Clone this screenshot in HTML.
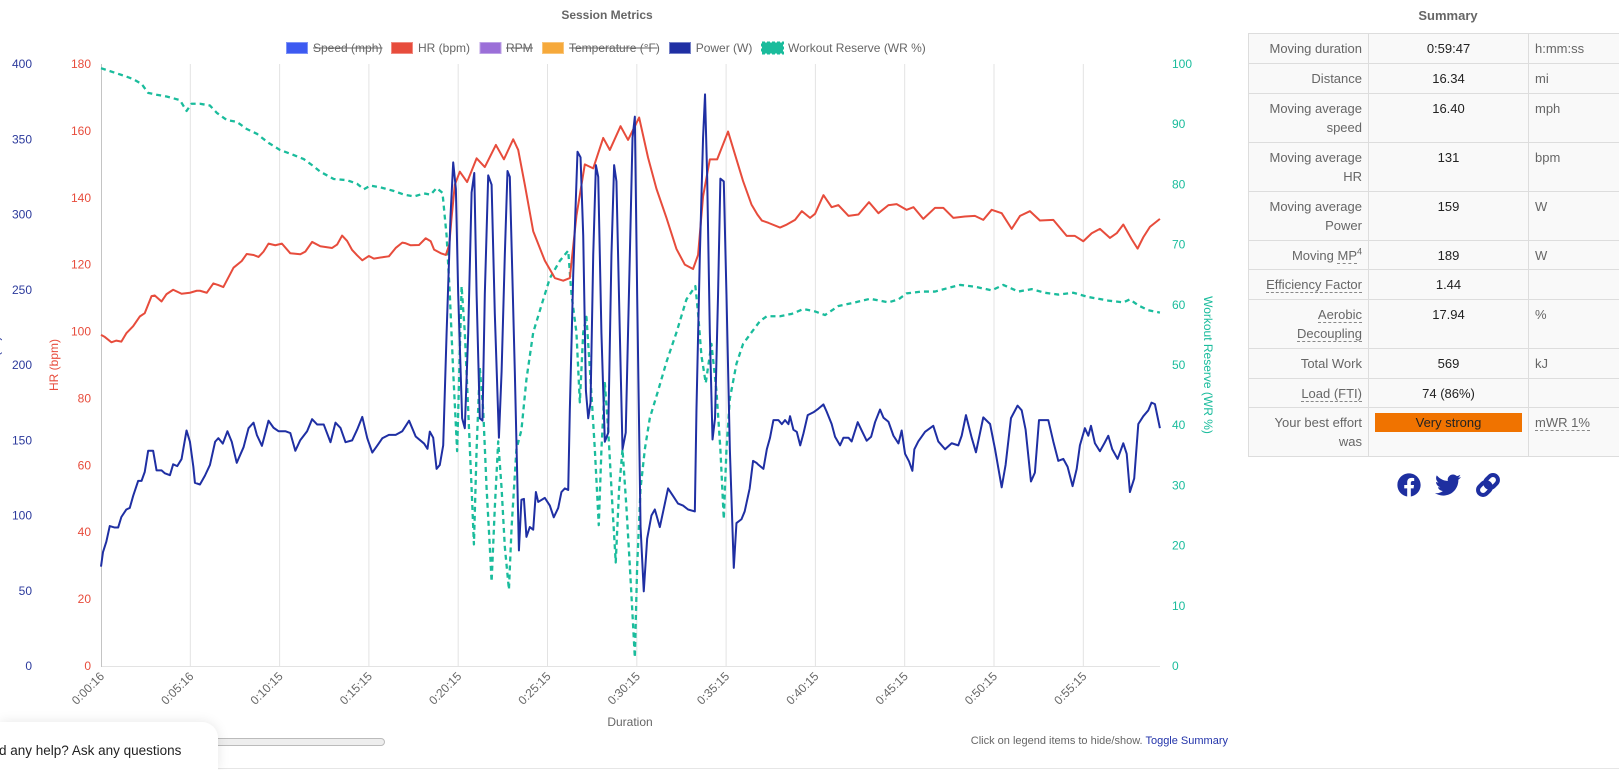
<!DOCTYPE html>
<html><head><meta charset="utf-8">
<style>
html,body{margin:0;padding:0;background:#fff;}
body{width:1619px;height:770px;overflow:hidden;position:relative;font-family:"Liberation Sans",Arial,sans-serif;}
svg{position:absolute;left:0;top:0;}
.sumtitle{position:absolute;left:1248px;width:400px;top:6px;text-align:center;font:bold 13px/19px "Liberation Sans",Arial,sans-serif;color:#666;}
table.sum{position:absolute;left:1248px;top:33px;width:400px;table-layout:fixed;border-collapse:collapse;background:#f9f9f9;font:13px/19px "Liberation Sans",Arial,sans-serif;}
table.sum td{border:1px solid #ddd;padding:5px 6px;vertical-align:top;}
table.sum td.l{text-align:right;color:#666;}
table.sum td.v{text-align:center;color:#222;}
table.sum td.u{text-align:left;color:#666;}
table.sum tr.t29 td{padding-bottom:4px;}
.ab{border-bottom:1px dashed #888;}
.bar{background:#f07300;color:#222;text-align:center;height:19px;line-height:19px;}
.note{position:absolute;right:391px;top:734px;font:11px/14px "Liberation Sans",Arial,sans-serif;color:#666;white-space:nowrap;}
.note span{color:#2233aa;}
.scroll{position:absolute;left:213px;top:738px;width:170px;height:6px;background:#eee;border:1px solid #bbb;border-radius:4px;}
.chat{position:absolute;left:0;top:722px;width:218px;height:48px;background:#fff;border-top-right-radius:16px;box-shadow:0 0 12px rgba(0,0,0,0.10);z-index:2;}
.chat div{position:absolute;left:-1px;top:19px;font:13.5px/20px "Liberation Sans",Arial,sans-serif;color:#222;white-space:nowrap;}
.bline{position:absolute;left:218px;top:768px;width:1401px;height:1px;background:#e6e6e6;}
</style></head>
<body>
<svg width="1619" height="770" viewBox="0 0 1619 770" font-family="Liberation Sans, Arial, sans-serif">
  <!-- title -->
  <text x="607" y="19" text-anchor="middle" font-size="12" font-weight="bold" fill="#666">Session Metrics</text>

  <!-- legend -->
  <g font-size="12" fill="#666">
    <rect x="286.5" y="42.5" width="21" height="11" fill="#3d5af1" stroke="#7d93f7" stroke-width="1"/>
    <text x="313" y="52">Speed (mph)</text>
    <line x1="313" y1="48" x2="382.5" y2="48" stroke="#666" stroke-width="1"/>
    <rect x="391.5" y="42.5" width="21" height="11" fill="#e74c3c" stroke="#f08a80" stroke-width="1"/>
    <text x="418" y="52">HR (bpm)</text>
    <rect x="480" y="42.5" width="21" height="11" fill="#9b6fd8" stroke="#bda2e6" stroke-width="1"/>
    <text x="506" y="52">RPM</text>
    <line x1="506" y1="48" x2="533" y2="48" stroke="#666" stroke-width="1"/>
    <rect x="542.5" y="42.5" width="21" height="11" fill="#f6a93b" stroke="#f9c57a" stroke-width="1"/>
    <text x="569" y="52">Temperature (°F)</text>
    <line x1="569" y1="48" x2="657.5" y2="48" stroke="#666" stroke-width="1"/>
    <rect x="669.5" y="42.5" width="21" height="11" fill="#1f2fa3" stroke="#7480c8" stroke-width="1"/>
    <text x="695.7" y="52">Power (W)</text>
    <rect x="762" y="42.5" width="21" height="11" fill="#1abc9c" stroke="#1abc9c" stroke-width="2" stroke-dasharray="3,2"/>
    <text x="788" y="52">Workout Reserve (WR %)</text>
  </g>

  <!-- grid -->
  <g stroke="#e3e3e3" stroke-width="1">
    <line x1="190.3" y1="64" x2="190.3" y2="666"/>
    <line x1="279.6" y1="64" x2="279.6" y2="666"/>
    <line x1="368.9" y1="64" x2="368.9" y2="666"/>
    <line x1="458.2" y1="64" x2="458.2" y2="666"/>
    <line x1="547.5" y1="64" x2="547.5" y2="666"/>
    <line x1="636.8" y1="64" x2="636.8" y2="666"/>
    <line x1="726.1" y1="64" x2="726.1" y2="666"/>
    <line x1="815.4" y1="64" x2="815.4" y2="666"/>
    <line x1="904.7" y1="64" x2="904.7" y2="666"/>
    <line x1="994" y1="64" x2="994" y2="666"/>
    <line x1="1083.3" y1="64" x2="1083.3" y2="666"/>
    <line x1="101" y1="666.5" x2="1160" y2="666.5"/>
  </g>
  <line x1="101.5" y1="64" x2="101.5" y2="667" stroke="#c4c4c4" stroke-width="1"/>

  <!-- left power ticks -->
  <g font-size="12" fill="#2c3a9c" text-anchor="end">
    <text x="32" y="68">400</text>
    <text x="32" y="143.3">350</text>
    <text x="32" y="218.5">300</text>
    <text x="32" y="293.8">250</text>
    <text x="32" y="369">200</text>
    <text x="32" y="444.3">150</text>
    <text x="32" y="519.5">100</text>
    <text x="32" y="594.8">50</text>
    <text x="32" y="670">0</text>
  </g>
  <text transform="translate(-0.5,365) rotate(-90)" text-anchor="middle" font-size="12" fill="#2c3a9c">Power (W)</text>

  <!-- HR ticks -->
  <g font-size="12" fill="#e74c3c" text-anchor="end">
    <text x="91" y="68">180</text>
    <text x="91" y="134.9">160</text>
    <text x="91" y="201.8">140</text>
    <text x="91" y="268.7">120</text>
    <text x="91" y="335.6">100</text>
    <text x="91" y="402.4">80</text>
    <text x="91" y="469.3">60</text>
    <text x="91" y="536.2">40</text>
    <text x="91" y="603.1">20</text>
    <text x="91" y="670">0</text>
  </g>
  <text transform="translate(58,365) rotate(-90)" text-anchor="middle" font-size="12" fill="#e74c3c">HR (bpm)</text>

  <!-- WR ticks -->
  <g font-size="12" fill="#1abc9c" text-anchor="start">
    <text x="1172" y="68">100</text>
    <text x="1172" y="128.2">90</text>
    <text x="1172" y="188.4">80</text>
    <text x="1172" y="248.6">70</text>
    <text x="1172" y="308.8">60</text>
    <text x="1172" y="369">50</text>
    <text x="1172" y="429.2">40</text>
    <text x="1172" y="489.4">30</text>
    <text x="1172" y="549.6">20</text>
    <text x="1172" y="609.8">10</text>
    <text x="1172" y="670">0</text>
  </g>
  <text transform="translate(1204,365) rotate(90)" text-anchor="middle" font-size="12" fill="#1abc9c">Workout Reserve (WR %)</text>

  <!-- x ticks -->
  <g font-size="12" fill="#666" text-anchor="end">
    <text transform="translate(105,677) rotate(-45)">0:00:16</text>
    <text transform="translate(194.3,677) rotate(-45)">0:05:16</text>
    <text transform="translate(283.6,677) rotate(-45)">0:10:15</text>
    <text transform="translate(372.9,677) rotate(-45)">0:15:15</text>
    <text transform="translate(462.2,677) rotate(-45)">0:20:15</text>
    <text transform="translate(551.5,677) rotate(-45)">0:25:15</text>
    <text transform="translate(640.8,677) rotate(-45)">0:30:15</text>
    <text transform="translate(730.1,677) rotate(-45)">0:35:15</text>
    <text transform="translate(819.4,677) rotate(-45)">0:40:15</text>
    <text transform="translate(908.7,677) rotate(-45)">0:45:15</text>
    <text transform="translate(998,677) rotate(-45)">0:50:15</text>
    <text transform="translate(1087.3,677) rotate(-45)">0:55:15</text>
  </g>
  <text x="630" y="726" text-anchor="middle" font-size="12" fill="#666">Duration</text>

  <!-- WR series -->
  <g transform="translate(101,666) scale(17.86,-6.02)">
    <path fill="none" stroke="#1abc9c" stroke-width="2.3" stroke-dasharray="5,4" vector-effect="non-scaling-stroke" stroke-linejoin="round" d="M0,99.3 1.24,98.1 1.8,97.5 2.27,96.7 2.64,95.2 3.11,94.9 3.67,94.6 4.42,94 4.79,92.2 5.07,93.4 5.54,93.4 6.1,93.1 6.48,91.9 7.04,90.7 7.6,90.4 8.16,89.2 8.73,88.4 9.38,86.9 10.03,85.7 10.6,85.1 11.35,84.2 11.91,83 12.28,82.1 13.03,80.9 13.78,80.7 14.34,80.1 14.72,79.2 15.09,79.8 15.66,79.5 16.4,78.9 16.97,78.3 17.53,78 18.09,78.5 18.46,78.3 18.79,79.4 19.12,78.6 19.35,71.5 19.53,61.8 19.72,48.9 19.94,35.7 20.06,48.9 20.19,63.1 20.37,55.4 20.56,42.5 20.75,29.5 20.88,20.2 21.03,36 21.21,49.5 21.4,42.5 21.59,29.5 21.77,19.8 21.87,14 22.05,26.3 22.24,37.3 22.43,29.5 22.61,19.8 22.84,12.7 22.99,23.1 23.26,36 23.54,39.2 23.82,47.6 24.2,55.4 24.66,59.9 25.13,64.4 25.69,67.3 26.16,69 26.34,61.8 26.62,55.4 26.81,43.8 27,55.4 27.18,58 27.37,49.5 27.65,36 27.87,23.4 28.02,36 28.21,47 28.4,39.2 28.64,26.3 28.82,17.2 29.01,29.5 29.2,36 29.42,26.3 29.61,16.6 29.79,6.9 29.89,1.4 30.02,16.6 30.21,29.5 30.45,36 30.73,41.2 31.19,45.7 31.66,50.5 32.22,55.4 32.78,60.9 33.28,63.1 33.43,58.6 33.62,51.5 33.86,47 34.18,53.5 34.46,45.7 34.68,36 34.87,24.4 35.02,36 35.21,44.4 35.58,50.2 35.95,53.5 36.42,55.4 36.9,57.3 37.28,58.1 38.02,58.1 38.68,58.5 39.33,59.3 39.98,58.9 40.54,58.3 41.29,59.8 42.22,60.4 43.06,61 44.09,60.4 44.65,60.9 45.11,61.9 45.95,62.2 46.7,62.2 47.44,62.8 48.1,63.3 48.94,63 49.87,62.4 50.52,63.3 51.36,62.2 52.11,62.6 52.85,62 53.6,61.7 54.44,62 55.28,61.3 56.4,60.7 57.24,60.4 57.61,60.9 58.08,59.9 58.64,59.1 59.29,58.7"/>
  </g>

  <!-- HR series -->
  <g transform="translate(101,666) scale(17.86,-3.3444)">
    <path fill="none" stroke="#e74c3c" stroke-width="2" vector-effect="non-scaling-stroke" stroke-linejoin="round" d="M0,99 0.21,98.4 0.58,96.8 0.86,97.3 1.14,97 1.42,99.5 1.8,101.6 2.17,104.5 2.45,105.5 2.83,110.6 3.01,110.8 3.39,109 3.67,111.2 4.04,112.5 4.51,111.3 4.98,111.6 5.36,112.2 5.54,112.2 5.92,111.6 6.29,114.4 6.57,113.9 6.85,113.3 7.42,119.1 7.88,121.1 8.16,123.2 8.54,122.9 8.82,122.3 9.1,123.9 9.38,126.3 9.76,125.8 10.13,126.3 10.6,123.4 11.16,123.1 11.44,123.9 11.82,126.8 12.28,125.5 12.94,125 13.22,126 13.5,128.7 13.78,127.1 14.06,124.4 14.34,122.8 14.63,121.3 15,122.6 15.28,121.8 15.84,122.3 16.12,122.5 16.5,125 16.87,126.6 17.06,126.4 17.34,125.8 17.81,125.9 18.18,127.9 18.46,127 18.65,124.5 19.03,123.4 19.31,122.9 19.5,126 19.62,133.5 19.81,143.9 20.09,147.8 20.5,144.7 21.03,151.8 21.49,149.2 22.11,155.8 22.56,151.5 23.08,157.5 23.36,154.3 23.73,143.9 24.2,130 24.85,121.2 25.41,116 25.88,115.2 26.25,116 26.62,134.6 27.09,150 27.56,148.8 28.12,157.9 28.49,154.3 29.09,161.4 29.51,157.3 30.13,164 30.63,152 31.1,142.7 31.66,134 32.22,124.7 32.69,120 33.15,118.7 33.43,122.9 33.71,140.4 34.09,151.5 34.5,151.5 35.11,159.8 35.58,151.5 35.95,145 36.42,138 36.75,135 37,133.2 37.37,132.5 38.02,131.1 38.4,132 38.86,133.4 39.24,136 39.7,134 39.98,135.2 40.45,140.8 40.91,137.2 41.29,137.8 41.85,134.6 42.41,135 43,138.7 43.53,135.4 44.09,137.8 44.55,138.1 45.11,136.4 45.49,137.2 46.04,133.7 46.7,137 47.16,137 47.72,134 48.37,134.4 48.93,134.6 49.4,133.4 49.87,136.4 50.43,135.4 50.99,130.7 51.46,134.6 52.01,136 52.57,133.2 53.32,133.4 54.07,128.6 54.53,128.6 55,127 55.47,129.4 55.93,130.7 56.49,128 56.87,129.4 57.24,132 57.71,127.6 58.04,124.8 58.36,128.2 58.73,131.3 59.29,133.7"/>
  </g>

  <!-- Power series -->
  <g transform="translate(101,666) scale(17.86,-1.505)">
    <path fill="none" stroke="#1f2fa3" stroke-width="2" vector-effect="non-scaling-stroke" stroke-linejoin="round" d="M0,66 0.11,75.6 0.3,82.7 0.49,93 0.77,92 0.96,92 1.14,99 1.42,104 1.61,105 1.8,113 2.08,123 2.27,123 2.45,129 2.64,143 2.92,143 3.11,130 3.39,130 3.58,128 3.86,126.8 4.04,134 4.27,132.8 4.51,137.5 4.79,156.5 4.98,149 5.17,132.4 5.26,121.7 5.54,120.6 5.82,126.5 6.1,133.6 6.39,149 6.57,151.4 6.82,147.8 7.08,156 7.32,149 7.6,135 7.98,145.3 8.26,158 8.54,161.7 8.73,153.4 9.01,146.3 9.38,163 9.66,158.3 9.94,156 10.32,156 10.6,154.8 10.88,143 11.16,150.1 11.54,156 11.82,164 12.1,160.5 12.47,160.5 12.85,148.7 13.13,161.7 13.41,158.2 13.69,148.7 14.06,149.9 14.34,157 14.63,165.5 14.91,151.3 15.19,141.8 15.47,146.5 15.75,151.3 16.12,153.6 16.5,153.6 16.87,156 17.25,163 17.62,152.5 18.09,147.8 18.28,144.3 18.41,155.7 18.6,151.7 18.79,131 18.97,133.6 19.16,146.6 19.35,221 19.57,299 19.72,334.6 19.87,317 20,247 20.22,164.6 20.37,158 20.56,221 20.75,314.6 20.9,327.6 21.03,247 21.21,164.6 21.36,163 21.49,247 21.68,326 21.87,319.8 22.05,234 22.28,151.7 22.43,195.7 22.61,273 22.76,328.9 22.89,325 23.17,195.7 23.4,76.8 23.54,110.5 23.68,111 23.82,85.8 24.01,92.3 24.2,90.6 24.35,115.6 24.48,109 24.85,111.7 25.13,106.6 25.35,98.8 25.6,105 25.78,115.6 25.97,118 26.16,117 26.25,170 26.44,260 26.68,341.7 26.85,338 27,286 27.15,183 27.28,164.6 27.41,175 27.56,273 27.71,332.8 27.84,325 28.02,221 28.21,149 28.4,155 28.58,273 28.73,332.8 28.86,322 29.05,221 29.2,144 29.38,155 29.61,273 29.76,351 29.89,365 30.02,247 30.21,92.3 30.39,49.6 30.58,84.6 30.82,100 31.01,104 31.29,92.3 31.57,107.9 31.75,118 32.03,113 32.31,107.9 32.59,106.6 32.87,104 33.25,102.7 33.34,170 33.53,273 33.71,351 33.82,379.8 33.94,325 34.09,221 34.24,150.5 34.38,164.6 34.55,247 34.68,323.8 34.87,322 35.02,247 35.21,144 35.43,65.2 35.58,95 35.86,97.5 36.04,102.7 36.32,118 36.51,136.3 36.7,135 36.81,133.7 37.09,131 37.28,144 37.46,151.7 37.65,163.4 37.93,163.4 38.12,160.7 38.3,163.4 38.49,160.7 38.58,166 38.77,157 38.96,155.5 39.15,146.6 39.33,154.5 39.57,166.7 39.89,168.6 40.17,171 40.45,173.8 40.63,169 40.91,160.8 41.1,152.3 41.38,146.6 41.57,151.7 41.85,151.7 42.03,149.2 42.37,162 42.59,156.5 42.87,149.7 43.12,152.3 43.34,162 43.62,170.4 43.81,165 44.09,162.3 44.37,153 44.65,147.9 44.83,156.5 45.02,141 45.24,136 45.43,129.7 45.54,144 45.76,149.2 46.14,155.6 46.6,159.6 46.88,149.2 47.26,144 47.63,148 48,146.6 48.19,153 48.43,166.7 48.75,151.7 48.99,142 49.4,165.2 49.78,160.8 50.06,144 50.43,118.7 50.65,133.7 50.95,164.7 51.32,173 51.55,169.9 51.77,157 52.07,122.6 52.29,128.5 52.52,163.4 53.04,163.4 53.32,149.2 53.6,136.3 53.88,137.6 54.12,132.4 54.4,119.5 54.63,131 54.81,146.6 55.09,158 55.28,153 55.43,159.6 55.65,148 55.93,142.7 56.18,148 56.4,153 56.62,144 56.92,137.6 57.24,148 57.43,141 57.61,115.6 57.85,124.6 58.08,160.8 58.36,166 58.64,169.9 58.82,175 59.01,174 59.29,158"/>
  </g>

  <!-- share icons -->
  <g fill="#1e2fa0">
    <g transform="translate(1397,473) scale(0.0469)">
      <path d="M504 256C504 119 393 8 256 8S8 119 8 256c0 123.78 90.69 226.38 209.25 245V327.69h-63V256h63v-54.64c0-62.15 37-96.48 93.67-96.48 27.14 0 55.52 4.84 55.52 4.84v61h-31.28c-30.8 0-40.41 19.12-40.41 38.73V256h68.78l-11 71.69h-57.78V501C413.31 482.38 504 379.78 504 256z"/>
    </g>
    <g transform="translate(1435,472) scale(0.0508)">
      <path d="M459.37 151.716c.325 4.548.325 9.097.325 13.645 0 138.72-105.583 298.558-298.558 298.558-59.452 0-114.68-17.219-161.137-47.106 8.447.974 16.568 1.299 25.34 1.299 49.055 0 94.213-16.568 130.274-44.832-46.132-.975-84.792-31.188-98.112-72.772 6.498.974 12.995 1.624 19.818 1.624 9.421 0 18.843-1.3 27.614-3.573-48.081-9.747-84.143-51.98-84.143-102.985v-1.299c13.969 7.797 30.214 12.67 47.431 13.319-28.264-18.843-46.781-51.005-46.781-87.391 0-19.492 5.197-37.36 14.294-52.954 51.655 63.675 129.3 105.258 216.365 109.807-1.624-7.797-2.599-15.918-2.599-24.04 0-57.828 46.782-104.934 104.934-104.934 30.213 0 57.502 12.67 76.67 33.137 23.715-4.548 46.456-13.32 66.599-25.34-7.798 24.366-24.366 44.833-46.132 57.827 21.117-2.273 41.584-8.122 60.426-16.243-14.292 20.791-32.161 39.308-52.628 54.253z"/>
    </g>
  </g>
  <g transform="translate(1488,485) rotate(-45)" fill="none" stroke="#1e2fa0" stroke-width="4">
    <rect x="-12" y="-5" width="14" height="10" rx="5"/>
    <rect x="-2" y="-5" width="14" height="10" rx="5"/>
  </g>
</svg>

<div class="sumtitle">Summary</div>
<table class="sum">
  <colgroup><col style="width:120px"><col style="width:160px"><col style="width:120px"></colgroup>
  <tr><td class="l">Moving duration</td><td class="v">0:59:47</td><td class="u">h:mm:ss</td></tr>
  <tr><td class="l">Distance</td><td class="v">16.34</td><td class="u">mi</td></tr>
  <tr><td class="l">Moving average speed</td><td class="v">16.40</td><td class="u">mph</td></tr>
  <tr><td class="l">Moving average HR</td><td class="v">131</td><td class="u">bpm</td></tr>
  <tr><td class="l">Moving average Power</td><td class="v">159</td><td class="u">W</td></tr>
  <tr class="t29"><td class="l">Moving <span class="ab">MP</span><sup style="font-size:9px;line-height:0">4</sup></td><td class="v">189</td><td class="u">W</td></tr>
  <tr><td class="l"><span class="ab">Efficiency Factor</span></td><td class="v">1.44</td><td class="u"></td></tr>
  <tr><td class="l"><span class="ab">Aerobic Decoupling</span></td><td class="v">17.94</td><td class="u">%</td></tr>
  <tr><td class="l">Total Work</td><td class="v">569</td><td class="u">kJ</td></tr>
  <tr class="t29"><td class="l"><span class="ab">Load (FTI)</span></td><td class="v">74 (86%)</td><td class="u"></td></tr>
  <tr><td class="l">Your best effort was</td><td class="v"><div class="bar">Very strong</div></td><td class="u"><span class="ab">mWR 1%</span></td></tr>
</table>

<div class="note">Click on legend items to hide/show. <span>Toggle Summary</span></div>
<div class="scroll"></div>
<div class="bline"></div>
<div class="chat"><div>d any help? Ask any questions</div></div>
</body></html>
